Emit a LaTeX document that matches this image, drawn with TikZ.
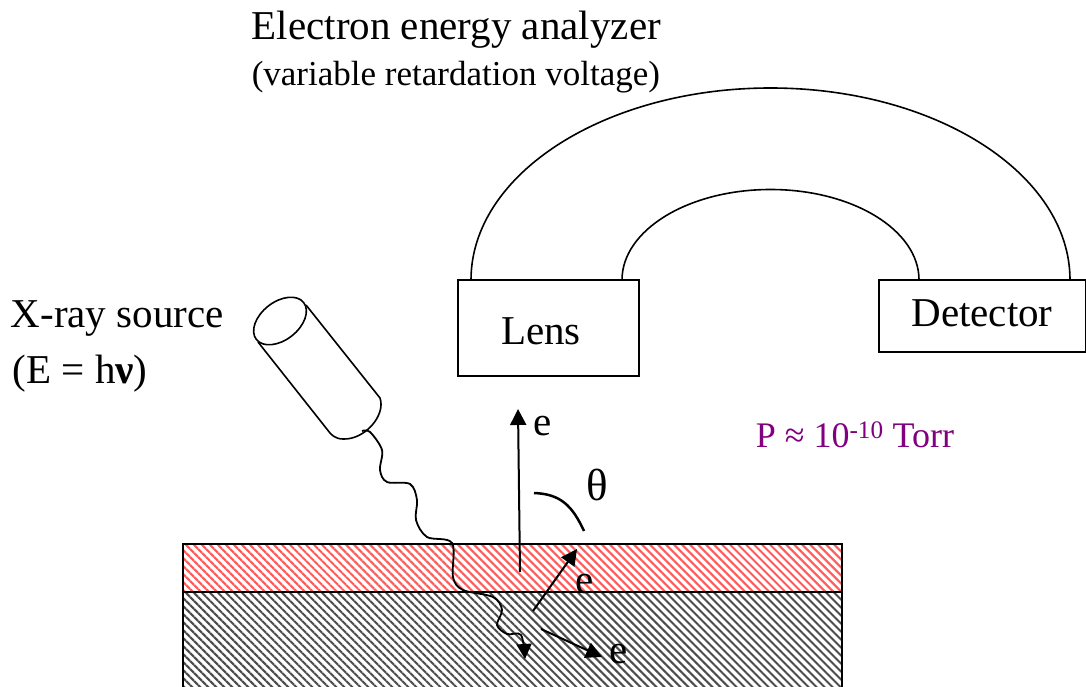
\documentclass[tikz,border=0pt]{standalone}
\usepackage{fontspec}
\setmainfont{Liberation Serif}
\usepackage{tikz}
\usetikzlibrary{arrows.meta,patterns.meta,positioning}
\definecolor{torrpurple}{RGB}{128,0,128}

\begin{document}
\begin{tikzpicture}
	[x=1pt,y=-1pt,line width=1.6pt,
	layer/.style={draw=black,line width=2pt},
	redlayer/.style={layer,pattern={Lines[angle=-45,distance=5.66pt,line width=2.1pt]},pattern color=red!65},
	graylayer/.style={pattern={Lines[angle=-45,distance=5.66pt,line width=2pt]},pattern color=black!70},
	box/.style={draw=black,line width=2pt,inner sep=0pt},
	big/.style={font=\fontsize{41}{44}\selectfont,inner sep=0pt},
	small/.style={font=\fontsize{35}{38}\selectfont,inner sep=0pt},
	beam/.style={line width=2pt,-{Triangle[length=16pt,width=16pt]}}]
	\useasboundingbox (0,0) rectangle (1086,687);
	%capas de la muestra
	\fill[graylayer] (183,592) rectangle (842,687);
	\draw[redlayer] (183,544) rectangle (842,592);
	\draw[layer] (183,687) -- (183,592) -- (842,592) -- (842,687);
	%analizador
	\node (lensbox) at (548.5,328) [box,minimum width=181pt,minimum height=96pt] {};
	\node (detbox) at (982.5,316) [box,minimum width=207pt,minimum height=72pt] {};
	\node (lens) at (541,331) [big] {Lens};
	\node (detector) at (982,313) [big] {Detector};
	\coordinate (outerL) at (471,280);
	\coordinate (innerL) at (622,280);
	\draw (outerL) arc [start angle=180,end angle=360,x radius=299.5,y radius=192];
	\draw (innerL) arc [start angle=180,end angle=360,x radius=148.5,y radius=90.5];
	%fuente de rayos X
	\coordinate (cap) at (280,321);
	\draw[rotate around={38:(cap)}] (cap) ellipse [x radius=30,y radius=19];
	\draw (306,305) -- (380,398) .. controls (386,415) and (365,440) .. (343,439) .. controls (335,439) and (331,434) .. (330,433) -- (258,342);
	%foton
	\draw[line width=1.8pt,-{Triangle[length=15pt,width=15pt]}] plot[smooth,tension=0.55] coordinates {(362,431) (370,432) (382,450) (380,470) (387,482) (410,484) (417,500) (416,520) (427,537) (452,543) (453,577) (463,590) (493,597) (502,610) (497,625) (507,634) (521,635) (525,659)};
	%electrones
	\coordinate (e1s) at (520,572);
	\coordinate (e1t) at (518,409);
	\coordinate (e2s) at (533,611);
	\coordinate (e2t) at (577,549);
	\coordinate (e3s) at (541,629);
	\coordinate (e3t) at (602,657);
	\draw[beam] (e1s) -- (e1t);
	\draw[beam] (e2s) -- (e2t);
	\draw[beam] (e3s) -- (e3t);
	\draw[line width=2.5pt] (534,493) .. controls (560,494) and (572,505) .. (584,531);
	%etiquetas
	\node (titleA) at (251,30) [big,anchor=west] {Electron energy analyzer};
	\node (titleB) at (251,77) [small,anchor=west] {(variable retardation voltage)};
	\node (xrayA) at (10,318) [big,anchor=west] {X-ray source};
	\node (xrayB) at (12,374) [big,anchor=west] {(E = h\textbf{ν})};
	\node (pressure) at (755,435) [font=\fontsize{36}{38}\selectfont,inner sep=0pt,anchor=west,text=torrpurple] {P ≈ 10\textsuperscript{-10} Torr};
	\node (theta) at (597,485) [font=\fontsize{45}{48}\selectfont,inner sep=0pt] {θ};
	\node (eup) at (543,426) [big] {e};
	\node (emid) at (585,584) [big] {e};
	\node (elow) at (619,654) [big] {e};
\end{tikzpicture}
\end{document}
